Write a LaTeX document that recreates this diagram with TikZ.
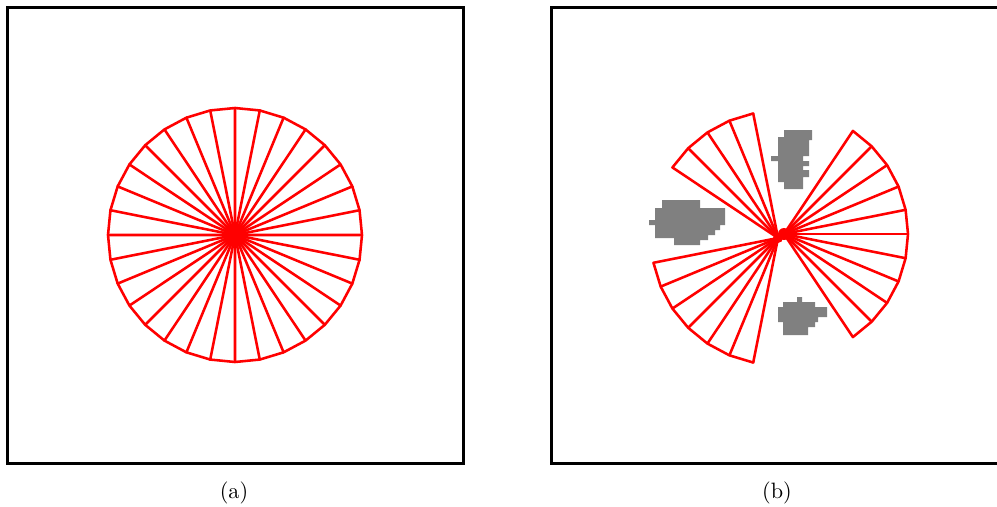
\documentclass[tikz,border=0pt]{standalone}
\usetikzlibrary{positioning}
\begin{document}
\begin{tikzpicture}[x=0.45pt,y=-0.45pt]
  \tikzset{
    frame/.style={draw=black, line width=1.35pt},
    beam/.style={draw=red, line width=1.15pt, line join=round},
    hub/.style={fill=red},
    obstacle/.style={fill=black!50},
  }
  \useasboundingbox (0,0) rectangle (997,506);
  \clip (0,0) rectangle (997,506);

  % (a) free scan
  \draw[frame] (7,7) rectangle (463.5,463.5);
  \begin{scope}[shift={(235,235)}]
    \foreach \i in {0,...,31} {
      \pgfmathsetmacro{\ta}{-\i*11.25}
      \pgfmathsetmacro{\tb}{-(\i+1)*11.25}
      \draw[beam] (0,0) -- (\ta:127) -- (\tb:127);
    }
    \fill[hub] (0,0) circle (12);
  \end{scope}

  % (b) scan with obstacles
  \draw[frame] (551.5,7) rectangle (1008,463.5);
  \fill[obstacle] (784,130) -- (812,130) -- (812,140) -- (809,140) -- (809,156)
    -- (803,156) -- (803,161) -- (809,161) -- (809,166) -- (803,166) -- (803,170)
    -- (809,170) -- (809,177) -- (803,177) -- (803,189) -- (784,189) -- (784,182)
    -- (778,182) -- (778,161) -- (771,161) -- (771,156) -- (778,156) -- (778,137)
    -- (784,137) -- cycle;
  \fill[obstacle] (662,200) -- (700,200) -- (700,208) -- (725,208) -- (725,225)
    -- (720,225) -- (720,230) -- (715,230) -- (715,235) -- (708,235) -- (708,240)
    -- (700,240) -- (700,245) -- (674,245) -- (674,238) -- (655,238) -- (655,225)
    -- (649,225) -- (649,220) -- (655,220) -- (655,208) -- (662,208) -- cycle;
  \fill[obstacle] (797,297) -- (802,297) -- (802,302) -- (815,302) -- (815,307)
    -- (827,307) -- (827,317) -- (818,317) -- (818,322) -- (815,322) -- (815,327)
    -- (808,327) -- (808,335) -- (783,335) -- (783,322) -- (778,322) -- (778,307)
    -- (783,307) -- (783,302) -- (797,302) -- cycle;

  \begin{scope}[shift={(778,238)}]
    % upper left sector
    \draw[beam] (0,0) -- (-101.25:127)
      \foreach \t in {112.5,123.75,135,146.25} { -- (-\t:127) } -- cycle;
    \foreach \t in {112.5,123.75,135} \draw[beam] (0,0) -- (-\t:127);
    % lower left sector
    \draw[beam] (0,0) -- (-191.25:127)
      \foreach \t in {202.5,213.75,225,236.25,247.5,258.75} { -- (-\t:127) } -- cycle;
    \foreach \t in {202.5,213.75,225,236.25,247.5} \draw[beam] (0,0) -- (-\t:127);
    \fill[hub] (0,0) circle (5);
  \end{scope}
  \begin{scope}[shift={(784,234)}]
    % right sector
    \draw[beam] (0,0) -- (56.25:124)
      \foreach \t in {45,33.75,22.5,11.25,0,-11.25,-22.5,-33.75,-45,-56.25} { -- (\t:124) } -- cycle;
    \foreach \t in {45,33.75,22.5,11.25,0,-11.25,-22.5,-33.75,-45} \draw[beam] (0,0) -- (\t:124);
    \fill[hub] (0,0) circle (6);
  \end{scope}

  \node (capa) at (234,493) {(a)};
  \node (capb) at (777,493) {(b)};
\end{tikzpicture}
\end{document}
